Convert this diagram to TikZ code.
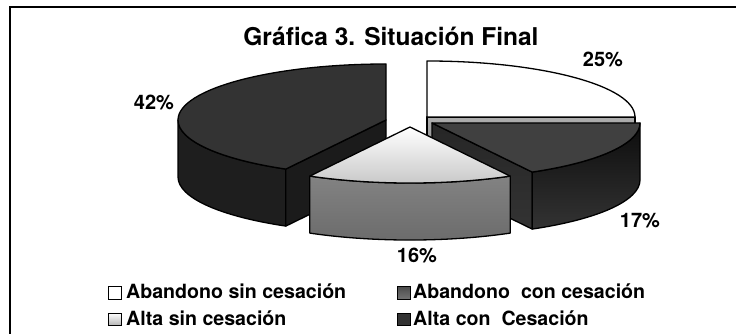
\documentclass[tikz,border=0pt]{standalone}
\usepackage{fontspec}
\setmainfont{TeX Gyre Heros}
\definecolor{altacon}{HTML}{333333}
\definecolor{altaconside}{HTML}{1E1E1E}
\definecolor{sinface}{HTML}{999999}
\tikzset{
  edge/.style={draw=black, line width=1.3pt, line join=round},
  pct/.style={font=\bfseries\fontsize{20}{24}\selectfont, anchor=base, inner sep=0pt},
  legtext/.style={font=\bfseries\fontsize{19.6}{23}\selectfont, anchor=base west, inner sep=0pt},
  legbox/.style={draw=black, line width=1.4pt, minimum size=12.5pt, inner sep=0pt}
}
\begin{document}
\begin{tikzpicture}[x=1pt,y=1pt,x radius=208,y radius=56]
\useasboundingbox (0,0) rectangle (736,334);
% Frame
\draw[line width=2pt] (10,-5) -- (10,327) -- (741,327);

% Title
\node[font=\bfseries\fontsize{24.5}{28}\selectfont, anchor=base, inner sep=0pt] (title) at (391,288) {Gráfica 3. Situación Final};

% Centers of the slices
\coordinate (c4) at (386,214);
\coordinate (c1) at (427,217);
\coordinate (c2) at (432,211);
\coordinate (c3) at (410,207);

% Alta con Cesacion (42%)
\path[edge, fill=altaconside] (c4) ++(-208,0) arc[start angle=180, end angle=241.2] -- ++(0,-57) arc[start angle=241.2, end angle=180] -- cycle;
\path[edge, fill=altaconside!90!black] (c4) -- ++(-100.2,-49.1) -- ++(0,-57) -- ++(100.2,49.1) -- cycle;
\path[edge, fill=altacon] (c4) -- ++(0,56) arc[start angle=90, end angle=241.2] -- cycle;

% Abandono sin cesacion (25%)
\path[edge, top color=sinface!80!white, bottom color=sinface!80!black] (c1) -- ++(208,0) -- ++(0,-57) -- ++(-208,0) -- cycle;
\path[edge, fill=white] (c1) -- ++(208,0) arc[start angle=0, end angle=90] -- cycle;

% Abandono con cesacion (17%)
\path[edge, top color=black!85, bottom color=black!80] (c2) -- ++(100.2,-49.1) -- ++(0,-57) -- ++(-100.2,49.1) -- cycle;
\path[edge, top color=black!95, bottom color=black!80] (c2) ++(208,0) arc[start angle=0, end angle=-61.2] -- ++(0,-57) arc[start angle=-61.2, end angle=0] -- cycle;
\path[edge, top color=black!75, middle color=black!35, bottom color=black!75] (c2) -- ++(208,0) arc[start angle=0, end angle=-61.2] -- cycle;

% Alta sin cesacion (16%)
\path[edge, top color=black!42, bottom color=black!58] (c3) ++(-100.2,-49.1) arc[start angle=-118.8, end angle=-61.2] -- ++(0,-57) arc[start angle=-61.2, end angle=-118.8] -- cycle;
\path[edge, top color=white, bottom color=black!22] (c3) -- ++(-100.2,-49.1) arc[start angle=-118.8, end angle=-61.2] -- cycle;

% Percentages
\node[pct] (p25) at (603,267) {25\%};
\node[pct] (p17) at (640,106) {17\%};
\node[pct] (p16) at (417,71) {16\%};
\node[pct] (p42) at (154,224) {42\%};

% Legend
\node[legbox, fill=white] (k1) at (115,41) {};
\node[legtext] (t1) at (126,35) {Abandono sin cesación};
\node[legbox, top color=black!70, bottom color=black!55] (k2) at (404,41) {};
\node[legtext] (t2) at (413,35) {Abandono~ con cesación};
\node[legbox, top color=white, bottom color=black!30] (k3) at (115,14.5) {};
\node[legtext] (t3) at (126,8) {Alta sin cesación};
\node[legbox, fill=altacon] (k4) at (404,14.5) {};
\node[legtext] (t4) at (413,8) {Alta con~ Cesación};
\end{tikzpicture}
\end{document}
